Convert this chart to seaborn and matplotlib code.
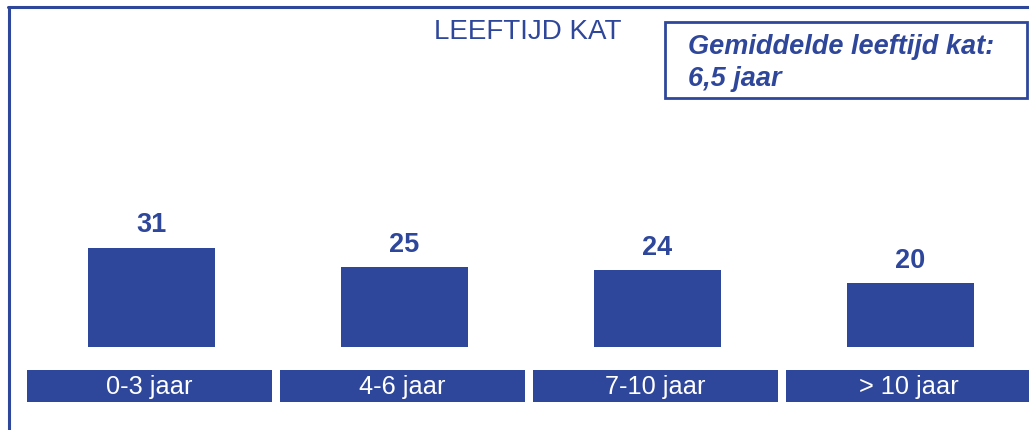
import numpy as np
import matplotlib
matplotlib.use("Agg")
import matplotlib.pyplot as plt
import matplotlib.transforms as mtransforms
from matplotlib.patches import Rectangle
from matplotlib.lines import Line2D
import seaborn as sns

# data
categories = ["0-3 jaar", "4-6 jaar", "7-10 jaar", "> 10 jaar"]
counts = [31, 25, 24, 20]
title = "LEEFTIJD KAT"
note = "Gemiddelde leeftijd kat:\n6,5 jaar"

blue = "#2F479B"

sns.set_style("white")
plt.rcParams["font.family"] = ["Liberation Sans", "DejaVu Sans"]

fig = plt.figure(figsize=(10.29, 4.31), dpi=100)
ax = fig.add_axes([0, 0, 1, 1])

sns.barplot(x=categories, y=counts, color=blue, saturation=1, width=0.5,
            edgecolor="none", linewidth=0, ax=ax)

# pixel layout: centres 253 px apart, first at 151.5 px; baseline 83 px from bottom
ax.set_xlim(-151.5 / 253, (1029 - 151.5) / 253)
ax.set_ylim(-83 / 3.19, (431 - 83) / 3.19)
ax.axis("off")

for i, v in enumerate(counts):
    ax.annotate(str(v), (i, v), xytext=(0, 17), textcoords="offset points",
                ha="center", va="center", fontsize=19.5, fontweight="bold", color=blue)

# category label boxes
trans = mtransforms.blended_transform_factory(ax.transData, ax.transAxes)
for i, lab in enumerate(categories):
    ax.add_patch(Rectangle((i - 0.492, 28 / 431), 0.968, 32.5 / 431, transform=trans,
                           facecolor=blue, edgecolor="none", clip_on=False))
    ax.text(i - 0.008, 43.5 / 431, lab, transform=trans, ha="center", va="center",
            fontsize=18.3, color="white")

# title
fig.text(528 / 1029, 1 - 32 / 431, title, ha="center", va="center",
         fontsize=20, color=blue)

# info box top right
fig.add_artist(Rectangle((665 / 1029, 1 - 99 / 431), 362 / 1029, 76 / 431,
                         transform=fig.transFigure, facecolor="white",
                         edgecolor=blue, linewidth=2))
fig.text(688 / 1029, 1 - 63 / 431, note, ha="left", va="center", fontsize=19.5,
         fontweight="bold", fontstyle="italic", color=blue, linespacing=1.32)

# frame lines left and top
fig.add_artist(Line2D([8.5 / 1029, 8.5 / 1029], [0, 1 - 8 / 431],
                      transform=fig.transFigure, color=blue, linewidth=2.2))
fig.add_artist(Line2D([7.5 / 1029, 1], [1 - 8 / 431, 1 - 8 / 431],
                      transform=fig.transFigure, color=blue, linewidth=2.2))

fig.savefig("out.png", dpi=100)
